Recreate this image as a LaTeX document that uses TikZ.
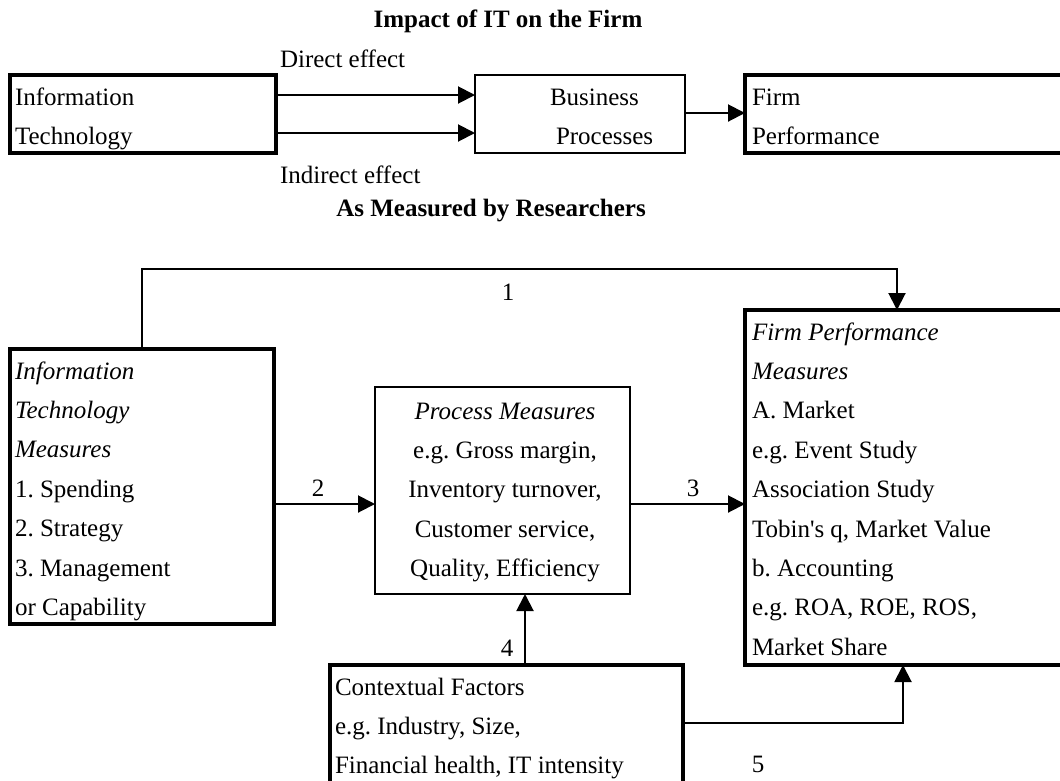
\documentclass[tikz,border=0pt]{standalone}
\usepackage{fontspec}
\setmainfont{Liberation Serif}
\usetikzlibrary{arrows.meta}
\frenchspacing
\begin{document}
\begin{tikzpicture}[x=1pt,y=-1pt,
  every node/.style={inner sep=0pt, outer sep=0pt},
  txt/.style={anchor=base west, font=\fontsize{25}{30}\selectfont},
  ctxt/.style={anchor=base, font=\fontsize{25}{30}\selectfont},
  ttl/.style={anchor=base, font=\fontsize{25}{30}\selectfont\bfseries},
  heavybox/.style={draw, line width=4pt},
  lightbox/.style={draw, line width=2.2pt},
  conn/.style={line width=2pt},
  arr/.style={conn, -{Triangle[length=17pt,width=17pt]}}
]
\useasboundingbox (0,0) rectangle (1060,780);
\clip (0,0) rectangle (1060,780);

% ---------- upper diagram ----------
\node[ttl] (title1) at (508,27) {Impact of IT on the Firm};

\node[heavybox, minimum width=266, minimum height=78] (itbox) at (143,114) {};
\node[lightbox, minimum width=210, minimum height=78] (bpbox) at (580,114) {};
\node[heavybox, minimum width=335, minimum height=78] (fpbox) at (912.5,114) {};

\node[txt] (it1) at (15,105) {Information};
\node[txt] (it2) at (15,144) {Technology};
\node[txt] (bp1) at (550,105) {Business};
\node[txt] (bp2) at (556,144) {Processes};
\node[txt] (fp1) at (752,105) {Firm};
\node[txt] (fp2) at (752,144) {Performance};

\node[txt] (direct) at (280,67) {Direct effect};
\node[txt] (indirect) at (280,183) {Indirect effect};

\draw[arr] (itbox.east |- 0,95) -- (bpbox.west |- 0,95);
\draw[arr] (itbox.east |- 0,133) -- (bpbox.west |- 0,133);
\draw[arr] (bpbox.east |- 0,113) -- (fpbox.west |- 0,113);

% ---------- lower diagram ----------
\node[ttl] (title2) at (491,216) {As Measured by Researchers};

\node[heavybox, minimum width=264, minimum height=275] (itm) at (142,486.5) {};
\node[lightbox, minimum width=255, minimum height=207] (pm) at (502.5,490.5) {};
\node[heavybox, minimum width=335, minimum height=355] (fpm) at (912.5,487.5) {};
\node[heavybox, minimum width=353, minimum height=155] (ctx) at (506.5,742.5) {};

% IT measures
\node[txt] (a1) at (15,379) {\itshape Information};
\node[txt] (a2) at (15,418.4) {\itshape Technology};
\node[txt] (a3) at (15,457.8) {\itshape Measures};
\node[txt] (a4) at (15,497.2) {1. Spending};
\node[txt] (a5) at (15,536.6) {2. Strategy};
\node[txt] (a6) at (15,576) {3. Management};
\node[txt] (a7) at (15,615.4) {or Capability};

% process measures
\node[ctxt] (b1) at (505,419) {\itshape Process Measures};
\node[ctxt] (b2) at (505,458.4) {e.g. Gross margin,};
\node[ctxt] (b3) at (505,497.8) {Inventory turnover,};
\node[ctxt] (b4) at (505,537.2) {Customer service,};
\node[ctxt] (b5) at (505,576.6) {Quality, Efficiency};

% firm performance measures
\node[txt] (c1) at (752,340) {\itshape Firm Performance};
\node[txt] (c2) at (752,379.4) {\itshape Measures};
\node[txt] (c3) at (752,418.8) {A. Market};
\node[txt] (c4) at (752,458.2) {e.g. Event Study};
\node[txt] (c5) at (752,497.6) {Association Study};
\node[txt] (c6) at (752,537) {Tobin\textquotesingle s q, Market Value};
\node[txt] (c7) at (752,576.4) {b. Accounting};
\node[txt] (c8) at (752,615.8) {e.g. ROA, ROE, ROS,};
\node[txt] (c9) at (752,655.2) {Market Share};

% contextual factors
\node[txt] (d1) at (335,695) {Contextual Factors};
\node[txt] (d2) at (335,734) {e.g. Industry, Size,};
\node[txt] (d3) at (335,773) {Financial health, IT intensity};

% links
\coordinate (k1) at (897,269);
\draw[arr] (itm.north) -- (itm.north |- k1) -- (k1) -- (k1 |- fpm.north);
\draw[arr] (itm.east |- 0,504) -- (pm.west |- 0,504);
\draw[arr] (pm.east |- 0,504) -- (fpm.west |- 0,504);
\draw[arr] (ctx.north -| 525,0) -- (pm.south -| 525,0);
\coordinate (k5) at (903,723);
\draw[arr] (ctx.east |- k5) -- (k5) -- (k5 |- fpm.south);

\node[ctxt] (n1) at (508,300) {1};
\node[ctxt] (n2) at (318,496) {2};
\node[ctxt] (n3) at (693,496) {3};
\node[ctxt] (n4) at (507,656) {4};
\node[ctxt] (n5) at (758,772) {5};
\end{tikzpicture}
\end{document}
